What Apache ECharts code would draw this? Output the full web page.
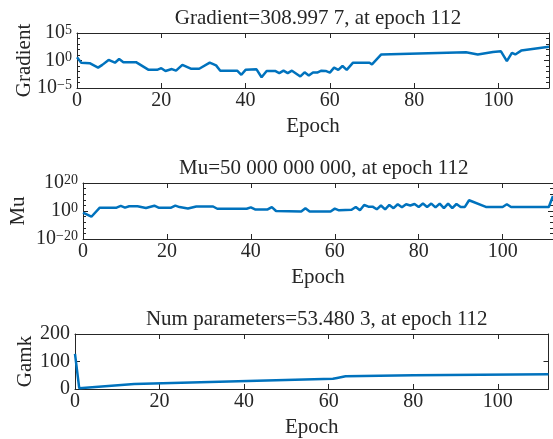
<!DOCTYPE html>
<html>
<head>
<meta charset="utf-8">
<script src="https://cdn.jsdelivr.net/npm/echarts@6/dist/echarts.min.js"></script>
<style>
html, body { margin: 0; padding: 0; background: #ffffff; }
#chart { width: 553px; height: 439px; }
</style>
</head>
<body>
<div id="chart"></div>
<script>
// Training record: gradient, mu and effective number of parameters per epoch
const gradientEpochs = [0, 1, 3, 5, 6, 7.5, 9, 10, 11, 14, 17, 19, 20, 21, 22.5, 23.5, 25, 27, 29, 31.5, 33, 34, 38, 39, 40, 42.6, 43.8, 45, 47, 48, 49, 50, 51, 53, 54, 55, 56, 57, 58, 59, 60, 61, 62, 63, 64, 65.5, 69.4, 70, 72.2, 92.3, 95.1, 98.7, 100.6, 101, 102, 103.2, 104, 105.4, 112];
const gradientValues = [3.8, 0.4, 0.32, 0.05, 0.16, 1.26, 0.4, 1.9, 0.5, 0.5, 0.02, 0.02, 0.04, 0.0126, 0.028, 0.014, 0.16, 0.032, 0.032, 0.4, 0.13, 0.014, 0.014, 0.0025, 0.02, 0.025, 0.0009, 0.0126, 0.0126, 0.005, 0.014, 0.005, 0.014, 0.00126, 0.007, 0.0018, 0.0063, 0.0063, 0.014, 0.0126, 0.0063, 0.05, 0.02, 0.1, 0.02, 0.4, 0.4, 0.2, 12.6, 31.6, 12.6, 35.5, 46.8, 40, 0.8, 25, 12.6, 63, 308.9977];

const muEpochs = [0, 2, 4, 8, 9, 10, 11, 13, 15, 17, 18, 21, 22, 23, 25, 27, 31, 32, 39, 40, 41, 44, 45, 46, 52, 53, 54, 59, 60, 61, 64, 65, 66, 67, 68, 69, 70, 71, 72, 73, 74, 75, 76, 77, 78, 79, 80, 81, 82, 83, 84, 85, 86, 87, 88, 89, 90, 91, 92, 96, 100, 101, 102, 111, 112];
const muValues = [0.063, 7.9e-5, 251, 251, 3981, 251, 2512, 2512, 158, 6310, 251, 251, 6310, 631, 63, 1585, 1585, 40, 40, 398, 12.6, 12.6, 631, 1, 0.5, 100, 0.5, 0.5, 50, 3.2, 7.9, 794, 3.2, 2e4, 1259, 1259, 16, 7943, 16, 2e4, 100, 6.3e4, 398, 6.3e4, 7943, 1e5, 794, 2e5, 794, 2e5, 398, 2e5, 100, 2e5, 100, 1e5, 794, 794, 5e7, 794, 794, 6.3e4, 794, 794, 5e10];

const gamkEpochs = [0, 1, 14, 61, 62, 64, 80, 112];
const gamkValues = [128, 3, 18, 37, 40, 46, 50, 53.4803];

const epochTicks = [0, 20, 40, 60, 80, 100];
const titles = [
  'Gradient=308.997 7, at epoch 112',
  'Mu=50 000 000 000, at epoch 112',
  'Num parameters=53.480 3, at epoch 112'
];
const yNames = ['Gradient', 'Mu', 'Gamk'];

const FONT = 'Liberation Serif';
const AXIS = '#262626';
const LINE = '#0072BD';

const pairs = (xs, ys) => xs.map((x, i) => [x, ys[i]]);

// superscript power-of-ten tick labels
function powLabel(v) {
  const e = Math.round(Math.log10(v));
  const s = e < 0 ? '\u2212' + Math.abs(e) : String(e);
  return '{b|10}{s|' + s + '}';
}
const powRich = {
  b: { fontFamily: FONT, fontSize: 20, lineHeight: 20, color: AXIS },
  s: { fontFamily: FONT, fontSize: 14, lineHeight: 14, color: AXIS, verticalAlign: 'top' }
};

const grids = [
  { left: 77, top: 33, width: 472, height: 55 },
  { left: 83, top: 183, width: 471.5, height: 56 },
  { left: 75, top: 334, width: 473.5, height: 55 }
];

const lineAxis = { show: true, onZero: false, lineStyle: { color: AXIS, width: 1 } };
const noLine = { show: false, onZero: false };
const tick = len => ({ show: true, inside: true, length: len, lineStyle: { color: AXIS, width: 1 } });

const xAxes = [];
const yAxes = [];
grids.forEach((g, i) => {
  const common = {
    gridIndex: i, type: 'value', min: 0, max: 112, interval: 20,
    axisLine: lineAxis, axisTick: tick(5), splitLine: { show: false }
  };
  xAxes.push(Object.assign({}, common, {
    position: 'bottom',
    name: 'Epoch', nameLocation: 'middle', nameGap: 28, nameMoveOverlap: false,
    nameTextStyle: { fontFamily: FONT, fontSize: 21, color: AXIS },
    axisLabel: { fontFamily: FONT, fontSize: 20, color: AXIS, margin: 3, showMaxLabel: false,
      formatter: v => epochTicks.includes(v) ? String(v) : '' }
  }));
  xAxes.push(Object.assign({}, common, { position: 'top', axisLabel: { show: false } }));
});

// left axis carries labels and major ticks, right axis mirrors the ticks;
// log axes also get a per-decade tick axis on both sides
function yAxesFor(i, opts, labelOpts, nameGap, decadeTicks) {
  const base = Object.assign({
    gridIndex: i, axisLine: lineAxis, axisTick: tick(5), splitLine: { show: false }
  }, opts);
  yAxes.push(Object.assign({}, base, {
    position: 'left',
    name: yNames[i], nameLocation: 'middle', nameGap: nameGap, nameMoveOverlap: false,
    nameTextStyle: { fontFamily: FONT, fontSize: 21, color: AXIS },
    axisLabel: Object.assign({ margin: 5 }, labelOpts)
  }));
  yAxes.push(Object.assign({}, base, { position: 'right', axisLabel: { show: false } }));
  if (decadeTicks) {
    ['left', 'right'].forEach(p => {
      yAxes.push(Object.assign({}, base, {
        position: p, interval: decadeTicks, axisLine: noLine, axisTick: tick(3),
        axisLabel: { show: false }
      }));
    });
  }
}

yAxesFor(0, { type: 'log', logBase: 10, min: 1e-5, max: 1e5, interval: 5 },
  { formatter: powLabel, rich: powRich }, 42, 1);
yAxesFor(1, { type: 'log', logBase: 10, min: 1e-20, max: 1e20, interval: 20 },
  { formatter: powLabel, rich: powRich }, 54, 4);
yAxesFor(2, { type: 'value', min: 0, max: 200, interval: 100 },
  { fontFamily: FONT, fontSize: 20, color: AXIS }, 39, 0);

const yStart = [0, 4, 8];
const lineSeries = (i, data) => ({
  type: 'line', xAxisIndex: 2 * i, yAxisIndex: yStart[i], data: data,
  showSymbol: false, symbol: 'none', clip: true,
  lineStyle: { color: LINE, width: 2.5 }, animation: false
});

const chart = echarts.init(document.getElementById('chart'), null, { renderer: 'canvas' });
chart.setOption({
  backgroundColor: '#ffffff',
  animation: false,
  title: grids.map((g, i) => ({
    text: titles[i],
    left: g.left + g.width / 2, top: g.top - 30, textAlign: 'center',
    textStyle: { fontFamily: FONT, fontSize: 21, fontWeight: 'normal', color: AXIS }
  })),
  grid: grids.map(g => Object.assign({ show: false, containLabel: false }, g)),
  xAxis: xAxes,
  yAxis: yAxes,
  series: [
    lineSeries(0, pairs(gradientEpochs, gradientValues)),
    lineSeries(1, pairs(muEpochs, muValues)),
    lineSeries(2, pairs(gamkEpochs, gamkValues))
  ]
});
</script>
</body>
</html>
